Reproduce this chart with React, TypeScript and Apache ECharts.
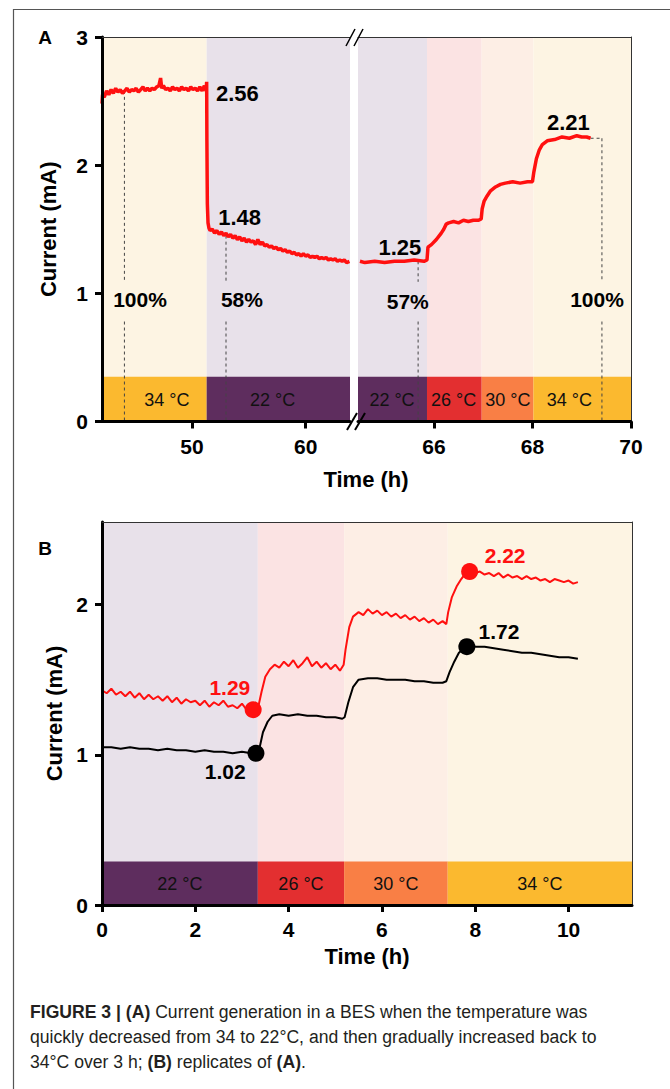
import React, { useEffect, useRef } from 'react';
import * as echarts from 'echarts';

// ---------- Panel A data (time h, current mA) ----------
const aLeftCurve: [number, number][] = [
  [42.1, 2.48], [42.15, 2.55], [42.3, 2.53], [42.5, 2.58], [42.7, 2.55], [42.9, 2.59], [43.1, 2.56], [43.3, 2.6],
  [43.5, 2.57], [43.7, 2.59], [43.9, 2.56], [44.1, 2.58], [44.3, 2.6], [44.5, 2.57], [44.7, 2.59], [44.9, 2.58],
  [45.1, 2.6], [45.3, 2.57], [45.5, 2.59], [45.7, 2.61], [45.9, 2.58], [46.1, 2.6], [46.3, 2.58], [46.5, 2.6],
  [46.7, 2.59], [46.9, 2.61], [47.1, 2.62], [47.25, 2.68], [47.35, 2.6], [47.5, 2.62], [47.7, 2.59], [47.9, 2.6],
  [48.1, 2.58], [48.3, 2.61], [48.5, 2.59], [48.7, 2.6], [48.9, 2.58], [49.1, 2.61], [49.3, 2.59], [49.5, 2.6],
  [49.7, 2.58], [49.9, 2.61], [50.1, 2.59], [50.3, 2.6], [50.5, 2.58], [50.7, 2.61], [50.9, 2.58], [51.1, 2.62],
  [51.25, 2.58], [51.3, 2.65], [51.32, 2.2], [51.36, 1.7], [51.42, 1.55], [51.5, 1.51], [51.6, 1.49], [51.8, 1.5],
  [52.0, 1.47], [52.2, 1.49], [52.4, 1.46], [52.6, 1.48], [52.8, 1.45], [53.0, 1.47], [53.2, 1.44], [53.4, 1.46],
  [53.6, 1.43], [53.8, 1.45], [54.0, 1.42], [54.2, 1.44], [54.4, 1.41], [54.6, 1.43], [54.8, 1.4], [55.0, 1.42],
  [55.2, 1.4], [55.4, 1.41], [55.6, 1.38], [55.8, 1.42], [56.0, 1.38], [56.2, 1.4], [56.4, 1.37], [56.6, 1.38],
  [56.8, 1.36], [57.0, 1.37], [57.2, 1.35], [57.4, 1.36], [57.6, 1.34], [57.8, 1.35], [58.0, 1.33], [58.2, 1.34],
  [58.4, 1.32], [58.6, 1.33], [58.8, 1.31], [59.0, 1.32], [59.2, 1.3], [59.4, 1.31], [59.6, 1.29], [59.8, 1.31],
  [60.0, 1.29], [60.2, 1.3], [60.4, 1.28], [60.6, 1.29], [60.8, 1.28], [61.0, 1.29], [61.2, 1.27], [61.4, 1.28],
  [61.6, 1.27], [61.8, 1.28], [62.0, 1.26], [62.2, 1.27], [62.4, 1.26], [62.6, 1.27], [62.8, 1.25], [63.0, 1.26],
  [63.2, 1.25], [63.4, 1.26], [63.6, 1.24], [63.85, 1.25],
];
const aRightCurve: [number, number][] = [
  [64.5, 1.25], [64.6, 1.24], [64.8, 1.25], [65.0, 1.24], [65.2, 1.25], [65.4, 1.25], [65.6, 1.26], [65.8, 1.25],
  [65.86, 1.26], [65.88, 1.36], [65.95, 1.38], [66.05, 1.42], [66.15, 1.47], [66.2, 1.5], [66.25, 1.54], [66.3, 1.55],
  [66.4, 1.56], [66.5, 1.55], [66.6, 1.57], [66.7, 1.56], [66.8, 1.57], [66.9, 1.57], [66.96, 1.58], [66.98, 1.66],
  [67.02, 1.72], [67.08, 1.76], [67.15, 1.8], [67.25, 1.83], [67.35, 1.85], [67.45, 1.86], [67.6, 1.87], [67.75, 1.86],
  [67.9, 1.87], [68.0, 1.87], [68.03, 1.95], [68.08, 2.05], [68.14, 2.12], [68.2, 2.16], [68.3, 2.19], [68.45, 2.2],
  [68.6, 2.22], [68.75, 2.21], [68.9, 2.23], [69.0, 2.22], [69.1, 2.22], [69.18, 2.21],
];

// temperature bands: [start h, end h, temperature °C, label centre h]
const aBands: [number, number, number, number][] = [
  [42.1, 51.3, 34, 47.8], [51.3, 63.9, 22, 57.1],
  [64.46, 65.86, 22, 65.15], [65.86, 66.97, 26, 66.4], [66.97, 68.02, 30, 67.5], [68.02, 70, 34, 68.75],
];
const aBandTop = 0.35;

// dashed guide lines: x, top value
const aGuideX = [44.07, 53.0, 65.68, 69.41];
const aGuideTop = [2.58, 1.45, 1.25, 2.21];
const aGuideGap: [number, number] = [0.78, 1.09];
const aGuideStubs: [number, number, number][] = [[42.7, 44.07, 2.58], [69.18, 69.41, 2.21]];

// value annotations [x, y, text]
const aValueLabels: [number, number, string][] = [
  [54.0, 2.56, '2.56'], [54.2, 1.59, '1.48'], [65.31, 1.36, '1.25'], [68.73, 2.33, '2.21'],
];
const aPercentLabels: [number, number, string][] = [
  [45.44, 0.95, '100%'], [54.4, 0.95, '58%'], [65.47, 0.94, '57%'], [69.31, 0.95, '100%'],
];

// ---------- Panel B data ----------
const bRed: [number, number][] = [
  [0.0, 1.43], [0.1, 1.41], [0.2, 1.44], [0.3, 1.4], [0.4, 1.42], [0.5, 1.39], [0.6, 1.42], [0.7, 1.38],
  [0.8, 1.41], [0.9, 1.37], [1.0, 1.4], [1.1, 1.37], [1.2, 1.39], [1.3, 1.36], [1.4, 1.39], [1.5, 1.35],
  [1.6, 1.38], [1.7, 1.34], [1.8, 1.37], [1.9, 1.35], [2.0, 1.36], [2.1, 1.33], [2.2, 1.36], [2.3, 1.32],
  [2.4, 1.35], [2.5, 1.33], [2.6, 1.36], [2.7, 1.32], [2.8, 1.33], [2.9, 1.31], [3.0, 1.34], [3.1, 1.3],
  [3.2, 1.32], [3.27, 1.29], [3.35, 1.32], [3.42, 1.42], [3.5, 1.52], [3.6, 1.57], [3.7, 1.6], [3.8, 1.58],
  [3.9, 1.62], [4.0, 1.59], [4.1, 1.63], [4.2, 1.58], [4.3, 1.61], [4.4, 1.65], [4.5, 1.59], [4.6, 1.62],
  [4.7, 1.58], [4.8, 1.61], [4.9, 1.57], [5.0, 1.6], [5.1, 1.56], [5.18, 1.6], [5.22, 1.7], [5.3, 1.85],
  [5.38, 1.92], [5.5, 1.95], [5.6, 1.93], [5.7, 1.97], [5.8, 1.94], [5.9, 1.96], [6.0, 1.93], [6.1, 1.95],
  [6.2, 1.92], [6.3, 1.94], [6.4, 1.91], [6.5, 1.93], [6.6, 1.9], [6.7, 1.92], [6.8, 1.89], [6.9, 1.91],
  [7.0, 1.88], [7.1, 1.9], [7.2, 1.87], [7.3, 1.89], [7.38, 1.87], [7.42, 1.95], [7.5, 2.05], [7.6, 2.12],
  [7.7, 2.17], [7.82, 2.22], [7.9, 2.23], [8.0, 2.21], [8.1, 2.22], [8.2, 2.2], [8.3, 2.21], [8.4, 2.19],
  [8.5, 2.21], [8.6, 2.18], [8.7, 2.2], [8.8, 2.18], [8.9, 2.19], [9.0, 2.17], [9.1, 2.19], [9.2, 2.17],
  [9.3, 2.18], [9.4, 2.16], [9.5, 2.17], [9.6, 2.15], [9.7, 2.17], [9.8, 2.16], [9.9, 2.15], [10.0, 2.16],
  [10.1, 2.14], [10.2, 2.15],
];
const bBlack: [number, number][] = [
  [0.0, 1.05], [0.2, 1.05], [0.4, 1.04], [0.6, 1.05], [0.8, 1.04], [1.0, 1.04], [1.2, 1.03], [1.4, 1.04],
  [1.6, 1.03], [1.8, 1.03], [2.0, 1.02], [2.2, 1.03], [2.4, 1.02], [2.6, 1.02], [2.8, 1.01], [3.0, 1.02],
  [3.2, 1.01], [3.3, 1.01], [3.38, 1.05], [3.45, 1.15], [3.55, 1.22], [3.65, 1.26], [3.8, 1.27], [4.0, 1.26],
  [4.2, 1.27], [4.4, 1.26], [4.6, 1.26], [4.8, 1.25], [5.0, 1.25], [5.15, 1.24], [5.2, 1.25], [5.28, 1.35],
  [5.38, 1.45], [5.5, 1.5], [5.7, 1.51], [5.9, 1.51], [6.1, 1.5], [6.3, 1.5], [6.5, 1.5], [6.7, 1.49],
  [6.9, 1.49], [7.1, 1.48], [7.3, 1.48], [7.38, 1.49], [7.45, 1.55], [7.55, 1.62], [7.65, 1.68], [7.8, 1.72],
  [7.9, 1.73], [8.0, 1.72], [8.2, 1.72], [8.4, 1.71], [8.6, 1.7], [8.8, 1.69], [9.0, 1.68], [9.2, 1.68],
  [9.4, 1.67], [9.6, 1.66], [9.8, 1.65], [10.0, 1.65], [10.2, 1.64],
];
const bRedDots: [number, number][] = [[3.24, 1.3], [7.88, 2.22]];
const bBlackDots: [number, number][] = [[3.3, 1.01], [7.82, 1.72]];
const bRedLabels: [number, number, string][] = [[2.74, 1.45, '1.29'], [8.64, 2.33, '2.22']];
const bBlackLabels: [number, number, string][] = [[2.64, 0.89, '1.02'], [8.51, 1.82, '1.72']];
const bBands: [number, number, number][] = [[0, 3.34, 22], [3.34, 5.19, 26], [5.19, 7.41, 30], [7.41, 11.36, 34]];
const bBandTop = 0.29;

const aYTicks = [0, 1, 2, 3];
const aLeftXTicks = [50, 60];
const aRightXTicks = [66, 68, 70];
const bYTicks = [0, 1, 2];
const bXTicks = [0, 2, 4, 6, 8, 10];

const lightColors: Record<number, string> = { 22: '#e8e1ea', 26: '#fbe3e3', 30: '#fdeee5', 34: '#fdf4e3' };
const strongColors: Record<number, string> = { 22: '#5e2d5e', 26: '#e32f30', 30: '#f97f45', 34: '#fbb92f' };

const FONT = '"Liberation Sans", Arial, Helvetica, sans-serif';
const RED = '#ff1010';

const renderBand = (strong: boolean) => (params: any, api: any) => {
  const p0 = api.coord([api.value(0), api.value(2)]);
  const p1 = api.coord([api.value(1), api.value(3)]);
  const temp = api.value(4);
  const children: any[] = [
    {
      type: 'rect',
      shape: { x: p0[0], y: p1[1], width: p1[0] - p0[0], height: p0[1] - p1[1] },
      style: { fill: strong ? strongColors[temp] : lightColors[temp] },
    },
  ];
  if (strong) {
    const pc = api.coord([api.value(5), (api.value(2) + api.value(3)) / 2]);
    children.push({
      type: 'text',
      x: pc[0],
      y: pc[1] + 1,
      style: { text: `${temp} °C`, fill: '#111', fontSize: 18, fontFamily: FONT, align: 'center', verticalAlign: 'middle' },
    });
  }
  return { type: 'group', children };
};

function bandSeries(rows: any[][], xi: number, yi: number, strong: boolean) {
  return {
    type: 'custom',
    xAxisIndex: xi,
    yAxisIndex: yi,
    silent: true,
    z: strong ? 2 : 1,
    encode: { x: [0, 1], y: [2, 3] },
    renderItem: renderBand(strong),
    data: rows,
  };
}

function dashed(data: [number, number][], xi: number, yi: number) {
  return {
    type: 'line',
    xAxisIndex: xi,
    yAxisIndex: yi,
    data,
    symbol: 'none',
    silent: true,
    z: 3,
    lineStyle: { color: '#444', width: 1, type: [3, 3] },
  };
}

function labelSeries(items: [number, number, string][], xi: number, yi: number, color: string, size: number) {
  return {
    type: 'scatter',
    xAxisIndex: xi,
    yAxisIndex: yi,
    silent: true,
    z: 6,
    symbolSize: 1,
    itemStyle: { color: 'rgba(0,0,0,0)', opacity: 1 },
    data: items.map((l) => ({ value: [l[0], l[1]], name: l[2] })),
    label: {
      show: true,
      position: 'inside',
      formatter: '{b}',
      color,
      opacity: 1,
      fontSize: size,
      fontWeight: 'bold',
      fontFamily: FONT,
    },
  };
}

function bottomAxis(grid: number, min: number, max: number, ticks: number[]) {
  return {
    gridIndex: grid,
    type: 'value',
    position: 'bottom',
    min,
    max,
    z: 10,
    axisLine: { show: true, onZero: false, lineStyle: { color: '#000', width: 3 } },
    axisTick: { show: true, length: 7, lineStyle: { color: '#000', width: 3 }, customValues: ticks },
    axisLabel: { customValues: ticks, margin: 14, fontSize: 21, fontWeight: 'bold', color: '#000', fontFamily: FONT },
    splitLine: { show: false },
  };
}
function borderAxis(grid: number, position: string, min: number, max: number) {
  return {
    gridIndex: grid,
    type: 'value',
    position,
    min,
    max,
    z: 10,
    axisLine: { show: true, onZero: false, lineStyle: { color: '#333', width: 1 } },
    axisTick: { show: false },
    axisLabel: { show: false },
    splitLine: { show: false },
  };
}
function leftAxis(grid: number, min: number, max: number, ticks: number[], nameGap: number) {
  return {
    gridIndex: grid,
    type: 'value',
    position: 'left',
    min,
    max,
    z: 10,
    name: 'Current (mA)',
    nameLocation: 'middle',
    nameGap,
    nameTextStyle: { fontSize: 22, fontWeight: 'bold', color: '#000', fontFamily: FONT },
    axisLine: { show: true, onZero: false, lineStyle: { color: '#000', width: 3 } },
    axisTick: { show: true, length: 7, lineStyle: { color: '#000', width: 3 }, customValues: ticks },
    axisLabel: { customValues: ticks, margin: 14, fontSize: 21, fontWeight: 'bold', color: '#000', fontFamily: FONT },
    splitLine: { show: false },
  };
}

export default function App() {
  const ref = useRef<HTMLDivElement>(null);
  useEffect(() => {
    document.body.style.margin = '0';
    if (!ref.current) return;
    const chart = echarts.init(ref.current, undefined, { renderer: 'svg' });

    const aLeftBands = aBands.filter((b) => b[1] <= 64);
    const aRightBands = aBands.filter((b) => b[0] >= 64);

    const guideSeries: any[] = [];
    aGuideX.forEach((x, i) => {
      const g = x < 64 ? 0 : 1;
      guideSeries.push(dashed([[x, aGuideTop[i]], [x, aGuideGap[1]]], g, g));
      guideSeries.push(dashed([[x, aGuideGap[0]], [x, 0]], g, g));
    });
    aGuideStubs.forEach((s) => {
      const g = s[0] < 64 ? 0 : 1;
      guideSeries.push(dashed([[s[0], s[2]], [s[1], s[2]]], g, g));
    });

    const captionStyle = { fontSize: 17.6, fontFamily: FONT, fill: '#231f20', verticalAlign: 'middle' };
    const richB = { b: { fontWeight: 'bold', fontSize: 17.6, fontFamily: FONT, fill: '#231f20' } };

    const option: any = {
      animation: false,
      backgroundColor: '#fff',
      grid: [
        { left: 102, top: 37, width: 248, height: 384.5 },
        { left: 358, top: 37, width: 273, height: 384.5 },
        { left: 102, top: 522, width: 530, height: 383 },
      ],
      xAxis: [
        bottomAxis(0, 42.1, 63.9, aLeftXTicks),
        bottomAxis(1, 64.46, 70, aRightXTicks),
        {
          ...bottomAxis(2, 0, 11.36, bXTicks),
          name: 'Time (h)',
          nameLocation: 'middle',
          nameGap: 40,
          nameTextStyle: { fontSize: 22, fontWeight: 'bold', color: '#000', fontFamily: FONT },
        },
        borderAxis(0, 'top', 42.1, 63.9),
        borderAxis(1, 'top', 64.46, 70),
        borderAxis(2, 'top', 0, 11.36),
      ],
      yAxis: [
        leftAxis(0, 0, 3, aYTicks, 43),
        { gridIndex: 1, type: 'value', min: 0, max: 3, show: false },
        leftAxis(2, 0, 2.55, bYTicks, 37),
        borderAxis(1, 'right', 0, 3),
        borderAxis(2, 'right', 0, 2.55),
      ],
      series: [
        bandSeries(aLeftBands.map((b) => [b[0], b[1], 0, 3, b[2], b[3]]), 0, 0, false),
        bandSeries(aLeftBands.map((b) => [b[0], b[1], 0, aBandTop, b[2], b[3]]), 0, 0, true),
        bandSeries(aRightBands.map((b) => [b[0], b[1], 0, 3, b[2], b[3]]), 1, 1, false),
        bandSeries(aRightBands.map((b) => [b[0], b[1], 0, aBandTop, b[2], b[3]]), 1, 1, true),
        bandSeries(bBands.map((b) => [b[0], b[1], 0, 2.55, b[2], (b[0] + b[1]) / 2]), 2, 2, false),
        bandSeries(bBands.map((b) => [b[0], b[1], 0, bBandTop, b[2], (b[0] + b[1]) / 2]), 2, 2, true),
        ...guideSeries,
        {
          type: 'line', xAxisIndex: 0, yAxisIndex: 0, data: aLeftCurve, symbol: 'none', z: 5,
          lineStyle: { color: RED, width: 3.5 },
        },
        {
          type: 'line', xAxisIndex: 1, yAxisIndex: 1, data: aRightCurve, symbol: 'none', z: 5,
          lineStyle: { color: RED, width: 3.5 },
        },
        labelSeries(aValueLabels.filter((l) => l[0] < 64), 0, 0, '#000', 22),
        labelSeries(aValueLabels.filter((l) => l[0] >= 64), 1, 1, '#000', 22),
        labelSeries(aPercentLabels.filter((l) => l[0] < 64), 0, 0, '#000', 21),
        labelSeries(aPercentLabels.filter((l) => l[0] >= 64), 1, 1, '#000', 21),
        {
          type: 'line', xAxisIndex: 2, yAxisIndex: 2, data: bRed, symbol: 'none', z: 5,
          lineStyle: { color: RED, width: 2 },
        },
        {
          type: 'line', xAxisIndex: 2, yAxisIndex: 2, data: bBlack, symbol: 'none', z: 5,
          lineStyle: { color: '#000', width: 2 },
        },
        {
          type: 'scatter', xAxisIndex: 2, yAxisIndex: 2, data: bRedDots, symbolSize: 17, z: 6,
          itemStyle: { color: RED, opacity: 1 },
        },
        {
          type: 'scatter', xAxisIndex: 2, yAxisIndex: 2, data: bBlackDots, symbolSize: 17, z: 6,
          itemStyle: { color: '#000', opacity: 1 },
        },
        labelSeries(bRedLabels, 2, 2, RED, 21),
        labelSeries(bBlackLabels, 2, 2, '#000', 21),
      ],
      graphic: [
        {
          type: 'rect', silent: true, z: 0,
          shape: { x: 13.5, y: 9.5, width: 720, height: 1200 },
          style: { fill: 'none', stroke: '#555', lineWidth: 1.2 },
        },
        { type: 'text', x: 45, y: 37, style: { text: 'A', fontSize: 19, fontWeight: 'bold', fontFamily: FONT, fill: '#000', align: 'center', verticalAlign: 'middle' } },
        { type: 'text', x: 45, y: 548, style: { text: 'B', fontSize: 19, fontWeight: 'bold', fontFamily: FONT, fill: '#000', align: 'center', verticalAlign: 'middle' } },
        { type: 'text', x: 366, y: 479, style: { text: 'Time (h)', fontSize: 22, fontWeight: 'bold', fontFamily: FONT, fill: '#000', align: 'center', verticalAlign: 'middle' } },
        { type: 'line', z: 20, shape: { x1: 347, y1: 430, x2: 357, y2: 413 }, style: { stroke: '#000', lineWidth: 2 } },
        { type: 'line', z: 20, shape: { x1: 355, y1: 430, x2: 365, y2: 413 }, style: { stroke: '#000', lineWidth: 2 } },
        { type: 'line', z: 20, shape: { x1: 346, y1: 46, x2: 355, y2: 29 }, style: { stroke: '#000', lineWidth: 1.5 } },
        { type: 'line', z: 20, shape: { x1: 354, y1: 46, x2: 363, y2: 29 }, style: { stroke: '#000', lineWidth: 1.5 } },
        {
          type: 'text', x: 30, y: 1012,
          style: { ...captionStyle, text: '{b|FIGURE 3 | (A)} Current generation in a BES when the temperature was', rich: richB },
        },
        {
          type: 'text', x: 30, y: 1037,
          style: { ...captionStyle, text: 'quickly decreased from 34 to 22°C, and then gradually increased back to' },
        },
        {
          type: 'text', x: 30, y: 1062,
          style: { ...captionStyle, text: '34°C over 3 h; {b|(B)} replicates of {b|(A)}.', rich: richB },
        },
      ],
    };
    chart.setOption(option);
    return () => chart.dispose();
  }, []);
  return <div ref={ref} style={{ width: 670, height: 1089 }} />;
}
